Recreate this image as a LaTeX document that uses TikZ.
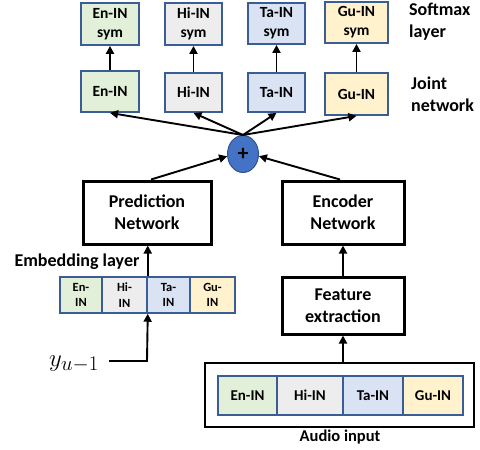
\documentclass[tikz,border=0pt]{standalone}
\usepackage{fontspec}
\setmainfont{Carlito}
\usetikzlibrary{arrows.meta,shapes.geometric,positioning}
\definecolor{cgreen}{HTML}{E2F0D9}
\definecolor{cgrey}{HTML}{EDEDED}
\definecolor{cblue}{HTML}{DAE3F3}
\definecolor{cyellow}{HTML}{FFF2CC}
\definecolor{cborder}{HTML}{3A5D96}
\definecolor{cfill}{HTML}{4472C4}
\definecolor{cdark}{HTML}{2F528F}
\tikzset{
  cbox/.style={draw=cborder, line width=1.8pt, inner sep=0pt, align=center, font=\fontsize{15.5}{19}\selectfont\bfseries},
  bbox/.style={draw=black, line width=3pt, inner sep=0pt, align=center, font=\fontsize{18}{22}\selectfont\bfseries},
  ecell/.style={draw=cborder, line width=1.5pt, inner sep=0pt, align=center, minimum height=36pt, font=\fontsize{12.5}{15.5}\selectfont\bfseries},
  acell/.style={draw=cborder, line width=1.8pt, inner sep=0pt, align=center, minimum height=39pt, font=\fontsize{15}{18}\selectfont\bfseries},
  lab/.style={inner sep=0pt, align=left, font=\fontsize{18}{22}\selectfont\bfseries},
  arr/.style={line width=1.9pt, -{Triangle[width=8pt,length=8pt]}},
}
\begin{document}
\begin{tikzpicture}[x=1pt,y=-1pt]
\useasboundingbox (0,0) rectangle (480,450);
% softmax boxes
\node[cbox, fill=cgreen, minimum width=58pt, minimum height=42pt] (s1) at (110,24) {En-IN\\sym};
\node[cbox, fill=cgrey, minimum width=57pt, minimum height=42pt] (s2) at (193.5,24) {Hi-IN\\sym};
\node[cbox, fill=cblue, minimum width=57pt, minimum height=41pt] (s3) at (276.5,23.5) {Ta-IN\\sym};
\node[cbox, fill=cyellow, minimum width=63pt, minimum height=41pt] (s4) at (356.5,22.5) {Gu-IN\\sym};
% joint boxes
\node[cbox, fill=cgreen, minimum width=58pt, minimum height=41pt] (j1) at (110,91.5) {En-IN};
\node[cbox, fill=cgrey, minimum width=57pt, minimum height=39pt] (j2) at (193.5,92.5) {Hi-IN};
\node[cbox, fill=cblue, minimum width=57pt, minimum height=39pt] (j3) at (276.5,92.5) {Ta-IN};
\node[cbox, fill=cyellow, minimum width=63pt, minimum height=42pt] (j4) at (356.5,94) {Gu-IN};
\foreach \i in {1,2,3,4} \draw[arr] (j\i.north) -- (s\i.south);
% labels
\node[lab, anchor=west] (lsoft) at (409,22) {Softmax\\layer};
\node[lab, anchor=west] (ljoint) at (411,94) {Joint\\network};
% plus circle
\node[ellipse, draw=cdark, line width=1pt, fill=cfill, minimum width=31pt, minimum height=37pt, inner sep=0pt, font=\fontsize{22}{22}\selectfont\bfseries] (plus) at (243,154) {+};
\foreach \i in {1,2,3,4} \draw[arr] (plus.north) -- (j\i.south);
% networks
\node[bbox, minimum width=128pt, minimum height=63pt] (pred) at (147,212.5) {Prediction\\Network};
\node[bbox, minimum width=122pt, minimum height=63pt] (enc) at (343,212.5) {Encoder\\Network};
\node[bbox, minimum width=122pt, minimum height=57pt] (feat) at (343,305.5) {Feature\\extraction};
\draw[arr] ([xshift=4pt]pred.north) -- (plus.188);
\draw[arr] ([xshift=-3pt]enc.north) -- (plus.-8);
\draw[arr] (feat.north) -- (enc.south);
% embedding
\node[lab, anchor=center] (lemb) at (77,262) {Embedding layer};
\node[ecell, fill=cgreen, minimum width=42pt] (e1) at (81,295) {En-\\IN};
\node[ecell, fill=cgrey, minimum width=45pt] (e2) at (124.5,295) {Hi-\\IN};
\node[ecell, fill=cblue, minimum width=43pt] (e3) at (168.5,295) {Ta-\\IN};
\node[ecell, fill=cyellow, minimum width=45pt] (e4) at (212.5,295) {Gu-\\IN};
\draw[arr] (e2.north east) -- (e2.north east |- pred.south);
% y_{u-1}
\node[inner sep=0pt, font=\fontsize{30}{34}\selectfont] (yu) at (74,364) {$y_{u-1}$};
\coordinate (corner) at (147,361);
\coordinate (ystart) at (109,361);
\draw[arr] (ystart) -- (corner) -- (e2.south east);
% audio
\node[draw=black, line width=2pt, minimum width=269pt, minimum height=64pt, inner sep=0pt] (audio) at (339.5,395) {};
\node[acell, fill=cgreen, minimum width=59pt] (a1) at (247.5,395.5) {En-IN};
\node[acell, fill=cgrey, minimum width=66pt] (a2) at (310,395.5) {Hi-IN};
\node[acell, fill=cblue, minimum width=60pt] (a3) at (373,395.5) {Ta-IN};
\node[acell, fill=cyellow, minimum width=60pt] (a4) at (433,395.5) {Gu-IN};
\draw[arr] (feat.south |- audio.north) -- (feat.south);
\node[lab, anchor=center, font=\fontsize{16.5}{20}\selectfont\bfseries] (laudio) at (340,437) {Audio input};
\end{tikzpicture}
\end{document}
